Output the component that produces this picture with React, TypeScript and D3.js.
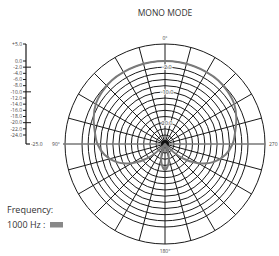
import React from "react";
import * as d3 from "d3";

const title = "MONO MODE";
const ringLevels = [5, 0, -2, -4, -6, -8, -10, -12, -14, -16, -18, -20, -22, -24];
const scaleTicks = [5, 0, -2, -4, -6, -8, -10, -12, -14, -16, -18, -20, -22, -24];
const scaleTickLabels = ["+5.0", "0.0", "-2.0", "-4.0", "-6.0", "-8.0", "-10.0", "-12.0", "-14.0", "-16.0", "-18.0", "-20.0", "-22.0", "-24.0"];
const majorTicks = [-2, -10, -20];
const ringLabels = [
  { v: -2, t: "-2.0" },
  { v: -10, t: "-10.0" },
  { v: -20, t: "20.0" },
];
const angleLabels = ["0°", "90°", "180°", "270"];
const patternAngles = [0, 10, 20, 30, 40, 50, 60, 70, 80, 90, 100, 110, 120, 130, 140, 150, 160, 170, 180, 190, 200, 210, 220, 230, 240, 250, 260, 270, 280, 290, 300, 310, 320, 330, 340, 350];
const patternDb = [0, 0, 0, 0, 0, -0.4, -1, -2.3, -3.8, -5, -7, -10, -14.5, -20, -24.8, -25, -24, -20.5, -18.5, -20.5, -24, -25, -24.8, -20, -14.5, -10, -7, -5, -3.8, -2.3, -1, -0.4, 0, 0, 0, 0];

export default function App() {
  const cx = 165;
  const cy = 144;
  const r = d3.scaleLinear().domain([-25, -24, 0, 5]).range([0, 9, 83, 100]);
  const spokes = d3.range(0, 360, 15);
  const toXY = (deg: number, rad: number) => {
    const a = (deg * Math.PI) / 180;
    return [cx - rad * Math.sin(a), cy - rad * Math.cos(a)];
  };
  const line = d3
    .lineRadial<number>()
    .angle((_, i) => (-patternAngles[i] * Math.PI) / 180)
    .radius((d) => r(d))
    .curve(d3.curveCatmullRomClosed.alpha(0.5));
  const path = line(patternDb) || "";
  const grid = "#1a1a1a";
  const axisX = 26;
  return (
    <svg width={279} height={256} style={{ position: "absolute", left: 0, top: 0, fontFamily: "'Open Sans', sans-serif" }}>
      <rect width={279} height={256} fill="#fff" />
      <text x={165} y={16} textAnchor="middle" fontSize={8.5} fill="#333">{title}</text>

      {/* left level scale */}
      <line x1={axisX} x2={axisX} y1={cy - r(5)} y2={cy} stroke={grid} strokeWidth={1.2} />
      <line x1={axisX} x2={axisX + 4} y1={cy} y2={cy} stroke={grid} strokeWidth={1.2} />
      <text x={axisX + 5} y={cy + 2} fontSize={5} fill="#444">-25.0</text>
      {scaleTicks.map((v, i) => {
        const y = cy - r(v);
        const major = majorTicks.includes(v);
        return (
          <g key={v}>
            <line x1={axisX - 3} x2={major ? axisX + 5 : axisX} y1={y} y2={y} stroke={grid} strokeWidth={1} />
            <text x={axisX - 4} y={y + 1.8} textAnchor="end" fontSize={5} fill="#444">{scaleTickLabels[i]}</text>
          </g>
        );
      })}

      {/* polar grid */}
      {ringLevels.map((v) => (
        <circle key={v} cx={cx} cy={cy} r={r(v)} fill="none" stroke={grid} strokeWidth={1} />
      ))}
      {spokes.map((a) => {
        const [x, y] = toXY(a, r(5));
        if (a === 90 || a === 270) return null;
        return <line key={a} x1={cx} y1={cy} x2={x} y2={y} stroke={grid} strokeWidth={1} />;
      })}
      <line x1={63} x2={265} y1={cy} y2={cy} stroke="#777" strokeWidth={1.6} />
      <circle cx={cx} cy={cy} r={4} fill="#111" />

      {/* pattern */}
      <path d={path} transform={`translate(${cx},${cy})`} fill="none" stroke="#7a7a7a" strokeWidth={2} />

      {ringLabels.map((d) => (
        <text key={d.t} x={167} y={cy - r(d.v) + 2} textAnchor="middle" fontSize={5.5} fill="#333"
          stroke="#fff" strokeWidth={1.5} paintOrder="stroke">{d.t}</text>
      ))}

      <text x={cx} y={40} textAnchor="middle" fontSize={5} fill="#444">{angleLabels[0]}</text>
      <text x={56} y={146} textAnchor="middle" fontSize={5} fill="#444">{angleLabels[1]}</text>
      <text x={cx} y={253} textAnchor="middle" fontSize={5} fill="#444">{angleLabels[2]}</text>
      <text x={269} y={146} fontSize={5} fill="#444">{angleLabels[3]}</text>

      {/* legend */}
      <text x={7} y={213} fontSize={9} fill="#333">Frequency:</text>
      <text x={7} y={228} fontSize={9} fill="#333">1000 Hz :</text>
      <rect x={50} y={222} width={13} height={5.5} fill="#888" />
    </svg>
  );
}
